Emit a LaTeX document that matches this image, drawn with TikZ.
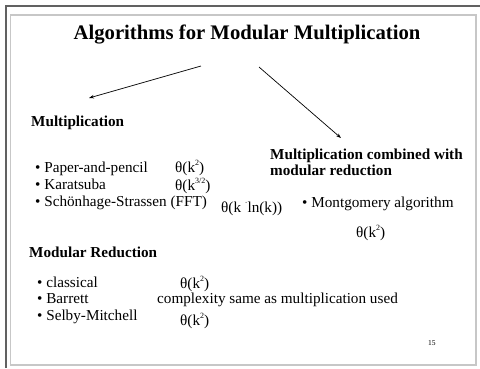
\documentclass[tikz,border=0pt]{standalone}
\usepackage{fontspec}
\setmainfont{Liberation Serif}
\usetikzlibrary{arrows.meta}
% small raised exponent
\newcommand\expo[1]{\raisebox{0.42em}{\fontsize{8}{8}\selectfont #1}}
\begin{document}
\begin{tikzpicture}[x=1pt,y=-1pt,
  txt/.style={anchor=base west,inner sep=0pt,font=\fontsize{15.2}{17}\selectfont},
  head/.style={anchor=base west,inner sep=0pt,font=\fontsize{15.2}{17}\selectfont\bfseries},
  ttl/.style={anchor=base,inner sep=0pt,font=\fontsize{20.7}{24}\selectfont\bfseries},
  pnum/.style={anchor=base west,inner sep=0pt,font=\fontsize{7.5}{9}\selectfont},
  arr/.style={-{Stealth[length=5pt,width=3.5pt]},line width=0.7pt}]
\useasboundingbox (0,0) rectangle (480,368);
\fill[white] (0,0) rectangle (480,368);
% slide frame
\draw[line width=1.6pt,black!62] (6,368) -- (6,6) -- (480,6);
\draw[line width=1.2pt,black!22] (10.5,15) rectangle (476,365);

% title
\node[ttl] (title) at (247,39) {Algorithms for Modular Multiplication};

% branches
\coordinate (hubL) at (201,66);
\coordinate (hubR) at (259,67);
\coordinate (tipL) at (89,98);
\coordinate (tipR) at (341,138);
\draw[arr] (hubL) -- (tipL);
\draw[arr] (hubR) -- (tipR);

% multiplication
\node[head] (mul) at (31,126) {Multiplication};
\node[txt] (m1) at (35,172) {• Paper-and-pencil};
\node[txt] (m2) at (35,189) {• Karatsuba};
\node[txt] (m3) at (35,206) {• Schönhage-Strassen (FFT)};
\node[txt] (c1) at (175,172) {θ(k\expo{2})};
\node[txt] (c2) at (175,190) {θ(k\expo{3/2})};
\node[txt] (c3) at (221,212) {θ(k \expo{·}ln(k))};

% combined
\node[head] (comb1) at (270,159) {Multiplication combined with};
\node[head] (comb2) at (270,175) {modular reduction};
\node[txt] (mont) at (302,207) {• Montgomery algorithm};
\node[txt] (cm) at (356,237) {θ(k\expo{2})};

% modular reduction
\node[head] (red) at (29,257) {Modular Reduction};
\node[txt] (r1) at (37,287) {• classical};
\node[txt] (r2) at (37,303) {• Barrett};
\node[txt] (r3) at (37,320) {• Selby-Mitchell};
\node[txt] (d1) at (180,288) {θ(k\expo{2})};
\node[txt] (d2) at (157,303) {complexity same as multiplication used};
\node[txt] (d3) at (180,325) {θ(k\expo{2})};

\node[pnum] (page) at (428,345) {15};
\end{tikzpicture}
\end{document}
